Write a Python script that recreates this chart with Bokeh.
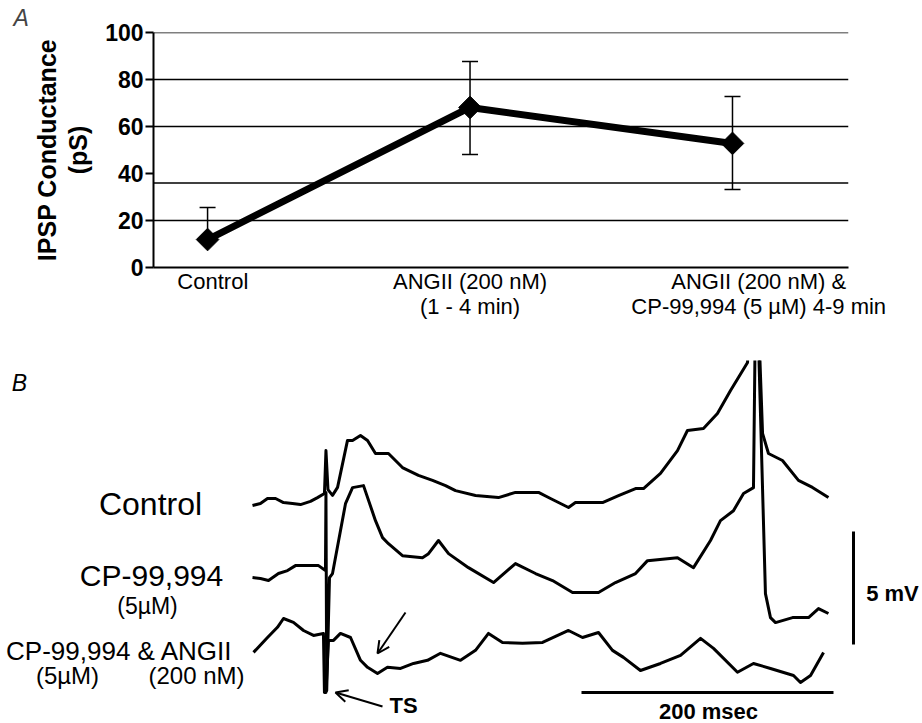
import numpy as np
from bokeh.plotting import figure
from bokeh.models import (Range1d, Span, Whisker, ColumnDataSource, Label, Arrow,
                          OpenHead, FixedTicker, TeeHead)
from bokeh.embed import file_html
from bokeh.resources import INLINE

# ---------------- Panel A data ----------------
CATEGORY_LABELS = ["Control",
                   "ANGII (200 nM)\n(1 - 4 min)",
                   "ANGII (200 nM) &\nCP-99,994 (5 \u00b5M) 4-9 min"]
MEANS = [11.9, 68.1, 52.8]
ERR_LOW = [11.9, 48.1, 33.2]
ERR_HIGH = [25.5, 87.7, 72.8]
Y_TICKS = [0, 20, 40, 60, 80, 100]
GRID_LEVELS = [20, 36, 60, 80, 100]
LABEL_TICKS = [0.02, 1.0, 2.1]   # where the category texts sit

# ---------------- Panel B data (time ms, voltage mV) ----------------
CONTROL_T = [0, 6.3, 11.9, 18.3, 24.6, 31.7, 38.1, 46.0, 51.6, 57.1,
             58.3, 59.9, 63.5, 67.5, 75.4, 79.4, 85.7, 91.3, 97.6, 107.9,
             119.0, 131.7, 142.9, 153.2, 161.1, 177.0, 195.2, 208.7, 227.0, 236.5,
             250.8, 256.3, 277.8, 290.5, 304.0, 310.3, 323.8, 337.3, 345.2, 357.9,
             369.0, 379.4, 392.9, 396.0, 399.5, 404.8, 409.5, 420.6, 433.3, 444.4, 457.1]
CONTROL_V = [0, 0.09, 0.31, 0.31, 0.13, 0.09, 0.04, 0.18, 0.35, 0.53,
             2.43, 0.70, 0.45, 0.80, 2.88, 2.88, 3.10, 2.88, 2.30, 2.30,
             1.68, 1.33, 1.11, 0.88, 0.66, 0.44, 0.35, 0.58, 0.58, 0.31,
             -0.09, 0.13, 0.13, 0.44, 0.75, 0.75, 1.42, 2.43, 3.32, 3.41,
             4.07, 5.09, 6.33, 11.5, 11.5, 3.19, 2.30, 1.99, 1.11, 0.80, 0.35]

CP_T = [0, 6.3, 12.7, 20.6, 27.8, 34.1, 52.4, 57.9, 58.3, 58.9,
        61.1, 63.5, 73.8, 79.4, 88.1, 97.6, 103.2, 107.9, 119.0, 134.9,
        139.7, 147.6, 155.6, 171.4, 191.3, 208.7, 224.6, 238.1, 254.0, 274.6,
        288.1, 304.0, 313.5, 337.3, 350.0, 363.5, 371.4, 381.7, 389.7, 397.6,
        399.2, 400.8, 407.1, 411.1, 415.1, 428.6, 441.3, 449.2, 457.1]
CP_V = [0, -0.04, -0.13, 0.18, 0.31, 0.53, 0.53, 0.31, 3.76, -5.0,
        0.0, 0.18, 3.27, 3.98, 4.07, 2.52, 1.77, 1.50, 0.97, 0.88,
        1.06, 1.64, 1.06, 0.44, -0.22, 0.62, 0.18, -0.13, -0.66, -0.66,
        -0.22, 0.18, 0.75, 0.88, 0.44, 1.64, 2.52, 2.96, 3.72, 3.98,
        12.0, 12.0, -0.71, -1.77, -1.99, -1.77, -1.77, -1.37, -1.59]

CPANG_T = [0.8, 11.9, 19.8, 24.6, 32.5, 40.5, 48.4, 56.3, 57.1, 58.3,
           60.3, 64.3, 69.8, 77.8, 85.7, 91.3, 99.2, 107.1, 117.5, 127.8,
           138.9, 149.2, 165.1, 177.0, 187.3, 198.4, 214.3, 230.2, 250.8, 261.9,
           274.6, 285.7, 294.4, 307.9, 323.8, 339.7, 355.6, 365.9, 384.9, 397.6,
           411.1, 429.4, 434.9, 442.9, 453.2]
CPANG_V = [0, 0.66, 1.11, 1.50, 1.33, 0.97, 0.75, 0.84, -1.77, -1.77,
           0.53, 0.53, 0.84, 0.66, -0.35, -0.66, -0.93, -0.66, -0.71, -0.49,
           -0.35, -0.04, -0.35, 0.09, 0.84, 0.44, 0.40, 0.44, 0.97, 0.66,
           0.88, 0.09, -0.22, -0.80, -0.49, -0.13, 0.62, 0.18, -0.88, -0.49,
           -0.71, -1.02, -1.33, -1.02, 0.0]

TRACE_OFFSETS = [0.0, -3.19, -6.50]   # vertical display offsets (mV)
SCALE_MV = 5
SCALE_MS = 200

FONT = "Liberation Sans"
W = 922
HA = 360
HB = 363

# ================= Panel A =================
pA = figure(width=W, height=HA, output_backend="svg", toolbar_location=None,
            x_range=Range1d(-0.206, 2.442), y_range=Range1d(0, 100),
            min_border_left=153, min_border_right=74, min_border_top=0, min_border_bottom=93)
pA.outline_line_color = None
pA.grid.visible = False

pA.title.text = "A"
pA.title.text_font = FONT
pA.title.text_font_style = "italic"
pA.title.text_font_size = "23px"
pA.title.align = "left"
pA.title.offset = -140
pA.title.standoff = 4

pA.xaxis.ticker = FixedTicker(ticks=LABEL_TICKS)
pA.xaxis.major_label_overrides = {t: lab for t, lab in zip(LABEL_TICKS, CATEGORY_LABELS)}
pA.xaxis.axis_line_width = 2
pA.xaxis.axis_line_color = "black"
pA.xaxis.major_tick_line_color = None
pA.xaxis.minor_tick_line_color = None
pA.xaxis.major_label_text_font = FONT
pA.xaxis.major_label_text_font_size = "22px"
pA.xaxis.major_label_text_line_height = 1.0
pA.xaxis.major_label_text_color = "black"
pA.xaxis.major_label_standoff = -5

pA.yaxis.ticker = FixedTicker(ticks=Y_TICKS)
pA.yaxis.axis_line_width = 2
pA.yaxis.axis_line_color = "black"
pA.yaxis.major_tick_line_width = 2
pA.yaxis.major_tick_line_color = "black"
pA.yaxis.major_tick_out = 8
pA.yaxis.major_tick_in = 0
pA.yaxis.minor_tick_line_color = None
pA.yaxis.major_label_text_font = FONT
pA.yaxis.major_label_text_font_style = "bold"
pA.yaxis.major_label_text_font_size = "23px"
pA.yaxis.major_label_text_color = "black"
pA.yaxis.major_label_standoff = 2
pA.yaxis.axis_label = "IPSP Conductance\n(pS)"
pA.yaxis.axis_label_text_font = FONT
pA.yaxis.axis_label_text_font_style = "bold"
pA.yaxis.axis_label_text_font_size = "25px"
pA.yaxis.axis_label_text_line_height = 1.12
pA.yaxis.axis_label_standoff = 10
pA.yaxis.axis_label_text_color = "black"

for g in GRID_LEVELS:
    pA.add_layout(Span(location=g, dimension="width", line_color="black", line_width=1.5))

xs = list(range(len(MEANS)))
err_src = ColumnDataSource(dict(base=xs, lower=ERR_LOW, upper=ERR_HIGH))
pA.add_layout(Whisker(base="base", lower="lower", upper="upper", source=err_src,
                      line_color="black", line_width=1.5,
                      upper_head=TeeHead(size=16, line_width=1.5, line_color="black"),
                      lower_head=TeeHead(size=16, line_width=1.5, line_color="black")))
pA.line(xs, MEANS, line_width=7, line_color="black")
pA.scatter(xs, MEANS, marker="square", size=16, angle=np.pi / 4,
           fill_color="black", line_color="black")

# ================= Panel B =================


def bx(px):
    return (px - 252) / 1.26


def by(py):
    return (505 - py) / 22.6


pB = figure(width=W, height=HB, title=None, output_backend="svg", toolbar_location=None,
            x_range=Range1d(bx(0), bx(W)), y_range=Range1d(by(HA + HB), by(HA)),
            x_axis_location=None, y_axis_location=None,
            min_border_left=0, min_border_right=0, min_border_top=0, min_border_bottom=0)
pB.outline_line_color = None
pB.grid.visible = False

for (t, v), off in zip([(CONTROL_T, CONTROL_V), (CP_T, CP_V), (CPANG_T, CPANG_V)], TRACE_OFFSETS):
    pB.line(t, [vv + off for vv in v], line_color="black", line_width=3,
            line_join="round")

# scale bars
bar_t = bx(853)
bar_v0 = by(531)
pB.line([bar_t, bar_t], [bar_v0, bar_v0 - SCALE_MV], line_color="black", line_width=3)
hb_t0 = bx(581)
hb_v = by(692)
pB.line([hb_t0, hb_t0 + SCALE_MS], [hb_v, hb_v], line_color="black", line_width=3)

# arrows
pB.add_layout(Arrow(x_start=bx(405), y_start=by(612), x_end=bx(377), y_end=by(653),
                    line_width=2, line_color="black",
                    end=OpenHead(size=12, line_width=2, line_color="black")))
pB.add_layout(Arrow(x_start=bx(382), y_start=by(706), x_end=bx(335), y_end=by(692),
                    line_width=2, line_color="black",
                    end=OpenHead(size=12, line_width=2, line_color="black")))

texts = [
    ("B", 19, 382, "23px", "italic"),
    ("Control", 150, 503, "32px", "normal"),
    ("CP-99,994", 151, 575, "30px", "normal"),
    ("(5\u00b5M)", 147, 605, "23px", "normal"),
    ("CP-99,994 & ANGII", 119, 650, "26px", "normal"),
    ("(5\u00b5M)", 67, 675, "24px", "normal"),
    ("(200 nM)", 196, 675, "24px", "normal"),
    ("TS", 403, 705, "22px", "bold"),
    ("5 mV", 892, 593, "22px", "bold"),
    ("200 msec", 708, 711, "22px", "bold"),
]
for txt, px, py, fs, st in texts:
    pB.add_layout(Label(x=bx(px), y=by(py), text=txt, text_align="center",
                        text_baseline="middle", text_font=FONT, text_font_style=st,
                        text_font_size=fs, text_color="black"))

open("out.html", "w").write(file_html([pA, pB], INLINE))
